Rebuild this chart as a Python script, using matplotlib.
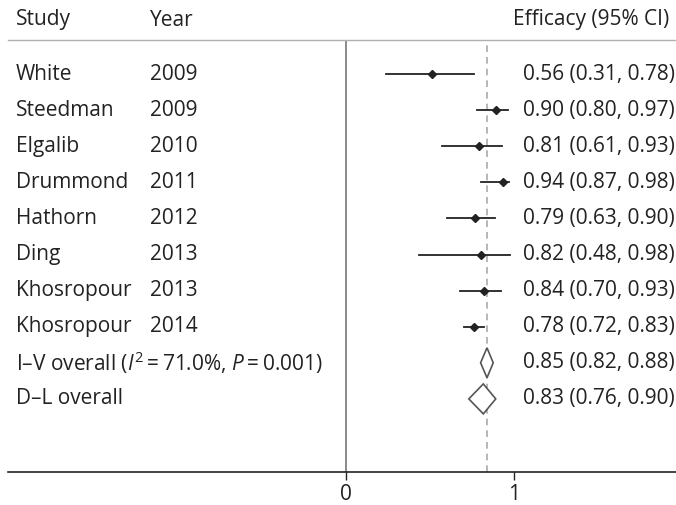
import matplotlib
matplotlib.use('Agg')
import matplotlib.pyplot as plt
from matplotlib.patches import Polygon
from matplotlib.transforms import blended_transform_factory

plt.rcParams['font.family'] = ['Open Sans', 'DejaVu Sans']
plt.rcParams['mathtext.fontset'] = 'custom'
plt.rcParams['mathtext.rm'] = 'Open Sans'
plt.rcParams['mathtext.it'] = 'Open Sans:italic'

# study rows
studies = ['White', 'Steedman', 'Elgalib', 'Drummond', 'Hathorn', 'Ding',
           'Khosropour', 'Khosropour']
years = ['2009', '2009', '2010', '2011', '2012', '2013', '2013', '2014']
# positions as drawn in the figure
est = [0.51, 0.89, 0.79, 0.935, 0.766, 0.80, 0.82, 0.76]
lo = [0.24, 0.78, 0.57, 0.80, 0.60, 0.434, 0.68, 0.70]
hi = [0.76, 0.965, 0.93, 0.97, 0.885, 0.974, 0.92, 0.82]
ci_text = ['0.56 (0.31, 0.78)', '0.90 (0.80, 0.97)', '0.81 (0.61, 0.93)',
           '0.94 (0.87, 0.98)', '0.79 (0.63, 0.90)', '0.82 (0.48, 0.98)',
           '0.84 (0.70, 0.93)', '0.78 (0.72, 0.83)']

# pooled rows
pooled_labels = ['I\u2013V overall ($I^2$\u2009=\u200971.0%, $P$\u2009=\u20090.001)',
                 'D\u2013L overall']
pooled_est = [0.838, 0.816]
pooled_lo = [0.80, 0.73]
pooled_hi = [0.875, 0.89]
pooled_text = ['0.85 (0.82, 0.88)', '0.83 (0.76, 0.90)']
ref_line = 0.836

W, H = 676, 505
fig = plt.figure(figsize=(W / 100, H / 100), dpi=100)
ax = fig.add_axes([8 / W, (H - 472) / H, 668 / W, 432 / H])
ax.set_xlim(-2.008, 1.961)
ax.set_ylim(11.025, -0.942)

txt = '#222222'
for s in ['left', 'right']:
    ax.spines[s].set_visible(False)
ax.spines['top'].set_color('#b0b0b0')
ax.spines['top'].set_linewidth(1.0)
ax.spines['bottom'].set_color('#222222')
ax.spines['bottom'].set_linewidth(1.2)
ax.set_yticks([])
ax.set_xticks([0, 1])
ax.set_xticklabels(['0', '1'])
ax.tick_params(axis='x', length=5.8, width=1, color='#222222', pad=3,
               labelsize=15, labelcolor=txt)

ax.axvline(0, color='#777777', lw=1.2)
ax.axvline(ref_line, color='#aaaaaa', lw=1.2, ls=(0, (4, 3)))

for i in range(len(studies)):
    ax.plot([lo[i], hi[i]], [i, i], color='#222222', lw=1.3)
    ax.plot(est[i], i, marker='D', ms=4, color='#222222')

n = len(studies)
for j in range(len(pooled_est)):
    y = n + j
    h = 0.415
    diamond = Polygon([[pooled_lo[j], y], [pooled_est[j], y - h],
                       [pooled_hi[j], y], [pooled_est[j], y + h]],
                      closed=True, facecolor='white', edgecolor='#555555',
                      lw=1.2, zorder=3)
    ax.add_patch(diamond)

tr = blended_transform_factory(fig.transFigure, ax.transData)
fs = 15
x_study, x_year, x_ci = 16 / W, 150 / W, 523 / W
for i in range(n):
    ax.text(x_study, i, studies[i], transform=tr, va='center', ha='left', fontsize=fs, color=txt)
    ax.text(x_year, i, years[i], transform=tr, va='center', ha='left', fontsize=fs, color=txt)
    ax.text(x_ci, i, ci_text[i], transform=tr, va='center', ha='left', fontsize=fs, color=txt)
for j in range(len(pooled_labels)):
    ax.text(x_study, n + j, pooled_labels[j], transform=tr, va='center', ha='left', fontsize=fs, color=txt)
    ax.text(x_ci, n + j, pooled_text[j], transform=tr, va='center', ha='left', fontsize=fs, color=txt)

fig.text(x_study, 1 - 20 / H, 'Study', va='center', ha='left', fontsize=fs, color=txt)
fig.text(x_year, 1 - 20 / H, 'Year', va='center', ha='left', fontsize=fs, color=txt)
fig.text(669 / W, 1 - 20 / H, 'Efficacy (95% CI)', va='center', ha='right', fontsize=fs, color=txt)

fig.savefig('out.png', dpi=100)
